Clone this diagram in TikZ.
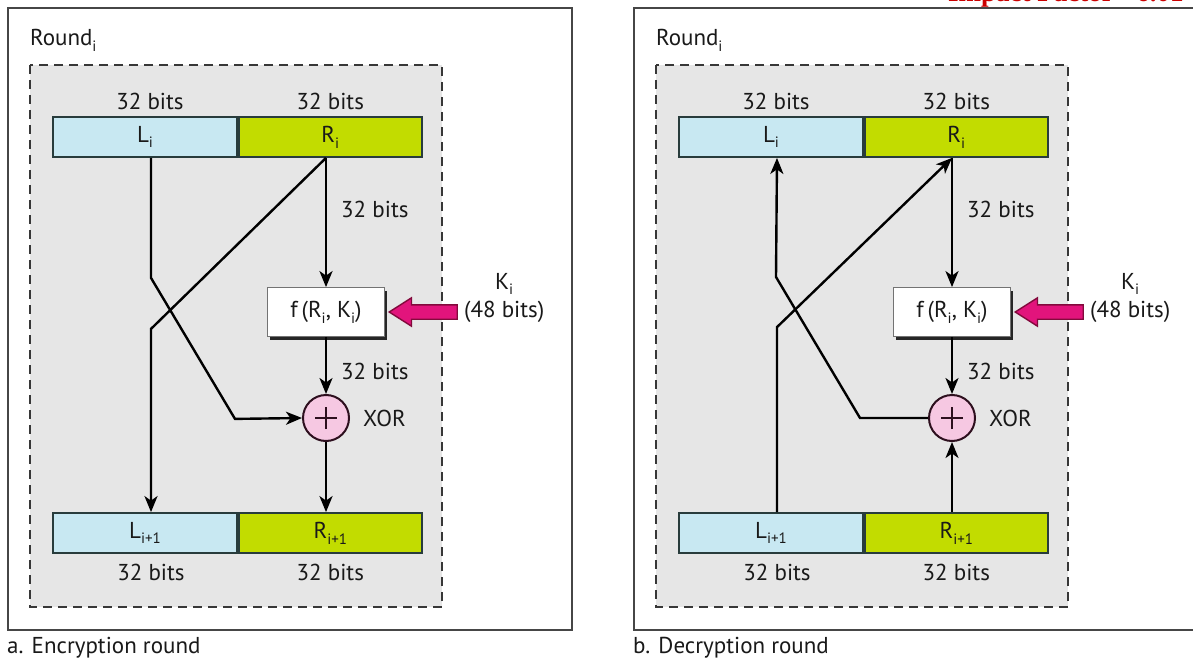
\documentclass[tikz,border=0pt]{standalone}
\usepackage{fontspec}
\setmainfont{PT Sans}
\newfontfamily\impactfont{Liberation Serif}
\usetikzlibrary{positioning,arrows.meta,shapes.arrows,shadows}

\definecolor{lbarfill}{RGB}{200,232,242}
\definecolor{rbarfill}{RGB}{194,220,0}
\definecolor{areagray}{RGB}{230,230,230}
\definecolor{framegray}{RGB}{70,70,70}
\definecolor{dashgray}{RGB}{55,55,55}
\definecolor{bargray}{RGB}{40,60,60}
\definecolor{txtgray}{RGB}{25,25,25}
\definecolor{xorfill}{RGB}{246,200,226}
\definecolor{xorline}{RGB}{45,15,30}
\definecolor{keyfill}{RGB}{226,20,124}
\definecolor{keyline}{RGB}{130,10,60}
\definecolor{impactred}{RGB}{204,0,0}

\newcommand{\lowidx}[1]{\raisebox{-0.5ex}{\fontsize{15}{15}\selectfont #1}}

\begin{document}
\begin{tikzpicture}[x=1pt, y=-1pt,
	font=\fontsize{23}{27}\selectfont, text=txtgray,
	frame/.style={draw=framegray, line width=2pt},
	roundarea/.style={draw=dashgray, fill=areagray, line width=1.8pt, dash pattern=on 9pt off 6pt},
	halfbar/.style={draw=bargray, line width=1.8pt, minimum height=40pt, inner sep=0pt},
	lhalf/.style={halfbar, fill=lbarfill, minimum width=184pt},
	rhalf/.style={halfbar, fill=rbarfill, minimum width=183pt},
	bitlbl/.style={inner sep=0pt},
	fbox/.style={draw=black!55, fill=white, line width=0.8pt, minimum width=117pt, minimum height=49pt,
		drop shadow={shadow xshift=2.5pt, shadow yshift=-3pt, fill=black!85, opacity=1}},
	xorgate/.style={circle, draw=xorline, fill=xorfill, line width=2pt, minimum size=46pt, inner sep=0pt,
		path picture={\draw[line width=2pt, xorline] ([xshift=-11pt]path picture bounding box.center) -- ([xshift=11pt]path picture bounding box.center)
			([yshift=-11pt]path picture bounding box.center) -- ([yshift=11pt]path picture bounding box.center);}},
	flow/.style={line width=2.4pt, draw=black},
	arr/.style={flow, -{Stealth[length=16pt, width=13pt, inset=4.5pt]}},
	keyarrow/.style={single arrow, draw=keyline, fill=keyfill, line width=1.4pt, minimum height=68pt, minimum width=27pt,
		inner xsep=0pt, inner ysep=6.5pt, single arrow head extend=7pt, single arrow head indent=0pt,
		single arrow tip angle=65, shape border rotate=180},
]

	\path[use as bounding box, fill=white] (0,0) rectangle (1193,663);

	\node[anchor=base west, inner sep=0pt, text=impactred, font=\impactfont\bfseries\fontsize{27}{30}\selectfont] (impact) at (948,1.5) {Impact Factor - 6.01};

	% both rounds share the same frame, halves, f box and XOR
	\foreach \p/\dx/\cap in {a/0/{a. Encryption round}, b/626/{b. Decryption round}}
	{
		\draw[frame] (8+\dx,8) rectangle (572+\dx,630);
		\draw[roundarea] (30+\dx,65) rectangle (442+\dx,607);
		\node[anchor=west, inner sep=0pt] (round\p) at (30+\dx,40) {Round\lowidx{i}};
		\node[anchor=west, inner sep=0pt] (cap\p) at (7+\dx,648) {\cap};

		\node[lhalf] (Li\p) at (145+\dx,137) {L\lowidx{i}};
		\node[rhalf, right=0pt of Li\p] (Ri\p) {R\lowidx{i}};
		\node[lhalf] (Ln\p) at (145+\dx,533) {L\lowidx{i+1}};
		\node[rhalf, right=0pt of Ln\p] (Rn\p) {R\lowidx{i+1}};

		\node[bitlbl, above=6pt of Li\p, xshift=5pt] {32 bits};
		\node[bitlbl, above=6pt of Ri\p] {32 bits};
		\node[bitlbl, below=10pt of Ln\p, xshift=6pt] {32 bits};
		\node[bitlbl, below=10pt of Rn\p] {32 bits};

		\node[fbox] (f\p) at (326+\dx,312) {f\,(R\lowidx{i}, K\lowidx{i})};
		\node[xorgate] (x\p) at (326+\dx,418) {};
		\node[bitlbl, right=13pt of x\p] (xl\p) {XOR};

		\node[bitlbl, right=79pt of f\p] (kb\p) {(48 bits)};
		\node[bitlbl, above=6pt of kb\p] (k\p) {K\lowidx{i}};
		\node[keyarrow, anchor=tip] (ka\p) at ([xshift=3pt]f\p.east) {};
	}

	% encryption
	\draw[arr] (fa.north |- Ria.south) -- node[bitlbl, anchor=west, pos=0.4, xshift=14pt] {32 bits} (fa.north);
	\draw[arr] (fa.south) -- node[bitlbl, anchor=west, pos=0.6, xshift=14pt] {32 bits} (xa.north);
	\draw[arr] (xa.south) -- (xa.south |- Rna.north);
	\draw[arr] ([xshift=6pt]Lia.south) -- ++(0,120) -- ++(84,141) -- (xa.west);
	\draw[arr] (fa.north |- Ria.south) -- ++(-175,171) -- ([xshift=6pt]Lna.north);

	% decryption
	\draw[arr] (fb.north |- Rib.south) -- node[bitlbl, anchor=west, pos=0.4, xshift=14pt] {32 bits} (fb.north);
	\draw[arr] (fb.south) -- node[bitlbl, anchor=west, pos=0.6, xshift=14pt] {32 bits} (xb.north);
	\draw[arr] (xb.south |- Rnb.north) -- (xb.south);
	\draw[arr] (xb.west) -- ++(-68,0) -- ++(-84,-141) -- ([xshift=6pt]Lib.south);
	\draw[arr] ([xshift=6pt]Lnb.north) -- ++(0,-185) -- (fb.north |- Rib.south);

\end{tikzpicture}
\end{document}
